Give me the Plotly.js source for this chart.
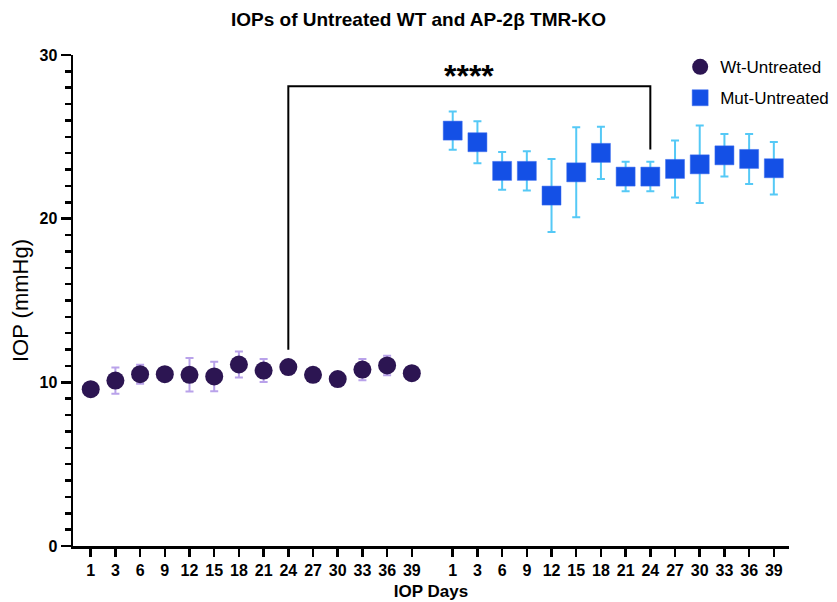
<!DOCTYPE html>
<html>
<head>
<meta charset="utf-8">
<script src="https://cdn.plot.ly/plotly-3.0.1.min.js"></script>
<style>html,body{margin:0;padding:0;background:#fff;}#chart{width:837px;height:602px;}</style>
</head>
<body>
<div id="chart"></div>
<script>
// ---- data ----
const days = [1, 3, 6, 9, 12, 15, 18, 21, 24, 27, 30, 33, 36, 39];
const wtMean = [9.58, 10.11, 10.50, 10.50, 10.46, 10.36, 11.09, 10.72, 10.93, 10.46, 10.20, 10.78, 11.03, 10.56];
const wtErr  = [0.3, 0.8, 0.58, 0.3, 1.02, 0.9, 0.8, 0.7, 0.3, 0.3, 0.3, 0.65, 0.6, 0.3];
const mutMean = [25.38, 24.67, 22.92, 22.92, 21.41, 22.83, 24.02, 22.57, 22.57, 23.04, 23.32, 23.87, 23.65, 23.08];
const mutErr  = [1.17, 1.28, 1.16, 1.2, 2.23, 2.75, 1.6, 0.9, 0.9, 1.74, 2.37, 1.3, 1.53, 1.6];
const seriesNames = ["Wt-Untreated", "Mut-Untreated"];
const sigLabel = "****";

// ---- layout helpers (positions) ----
const groupGap = 14.656;  // start of second group on the x axis
const xWt = days.map((d, i) => i);
const xMut = days.map((d, i) => i + groupGap);
const tickVals = xWt.concat(xMut);
const tickText = days.concat(days).map(String);
const bracketDayIdx = days.indexOf(24);

const FONT = "Liberation Sans, Arial, Helvetica, sans-serif";

const traces = [
  {
    x: xWt, y: wtMean, name: seriesNames[0], type: "scatter", mode: "markers", legend: "legend",
    marker: {symbol: "circle", size: 18, color: "#2c1552"},
    error_y: {type: "data", array: wtErr, visible: true, color: "#b9a2ea", thickness: 2, width: 4},
    cliponaxis: false
  },
  {
    x: xMut, y: mutMean, name: seriesNames[1], type: "scatter", mode: "markers", legend: "legend2",
    marker: {symbol: "square", size: 19, color: "#1450e6", line: {color: "#3d6ff0", width: 0.5}},
    error_y: {type: "data", array: mutErr, visible: true, color: "#55c9f6", thickness: 2, width: 4},
    cliponaxis: false
  }
];

const bxL = xWt[bracketDayIdx], bxR = xMut[bracketDayIdx];
const bTop = 28.09, bL = 11.99, bR = 24.22;

const legendFont = {size: 17, family: FONT, color: "#000"};
const layout = {
  width: 837, height: 602,
  margin: {l: 73, r: 48, t: 55, b: 56, autoexpand: false},
  paper_bgcolor: "#fff", plot_bgcolor: "#fff",
  font: {family: FONT, color: "#000"},
  title: {text: "IOPs of Untreated WT and AP-2β TMR-KO", font: {size: 19, weight: "bold", family: FONT, color: "#000"},
          xref: "container", x: 0.5, xanchor: "center", yref: "container", y: 0.968, yanchor: "middle"},
  showlegend: true,
  legend: {x: 0.848, y: 0.975, xanchor: "left", yanchor: "middle", font: legendFont,
           bgcolor: "rgba(0,0,0,0)", itemsizing: "trace"},
  legend2: {x: 0.848, y: 0.912, xanchor: "left", yanchor: "middle", font: legendFont,
           bgcolor: "rgba(0,0,0,0)", itemsizing: "trace"},
  xaxis: {
    range: [-0.717, 28.27], showgrid: false, zeroline: false,
    showline: true, linecolor: "#000", linewidth: 2.5,
    tickmode: "array", tickvals: tickVals, ticktext: tickText,
    ticks: "outside", ticklen: 8, tickwidth: 2.5, tickcolor: "#000",
    tickfont: {size: 16, weight: "bold", family: FONT, color: "#000"},
    title: {text: "IOP Days", font: {size: 17, weight: "bold", family: FONT, color: "#000"}, standoff: 8},
    fixedrange: true
  },
  yaxis: {
    range: [0, 30], showgrid: false, zeroline: false,
    showline: true, linecolor: "#000", linewidth: 2.5,
    tickmode: "array", tickvals: [0, 10, 20, 30],
    ticks: "outside", ticklen: 10, tickwidth: 2.5, tickcolor: "#000",
    minor: {dtick: 1, ticks: "outside", ticklen: 6, tickwidth: 2.5, tickcolor: "#000", showgrid: false},
    tickfont: {size: 16, weight: "bold", family: FONT, color: "#000"},
    title: {text: "IOP (mmHg)", font: {size: 22, family: FONT, color: "#000"}, standoff: 5},
    fixedrange: true
  },
  shapes: [
    {type: "path", xref: "x", yref: "y",
     path: `M ${bxL},${bL} L ${bxL},${bTop} L ${bxR},${bTop} L ${bxR},${bR}`,
     line: {color: "#000", width: 2}}
  ],
  annotations: [
    {x: (bxL + bxR) / 2, y: bTop, xref: "x", yref: "y", text: sigLabel, showarrow: false,
     yanchor: "middle", yshift: 10, font: {size: 32, weight: "bold", family: FONT, color: "#000"}}
  ]
};

Plotly.newPlot("chart", traces, layout, {displayModeBar: false, staticPlot: true});
</script>
</body>
</html>
